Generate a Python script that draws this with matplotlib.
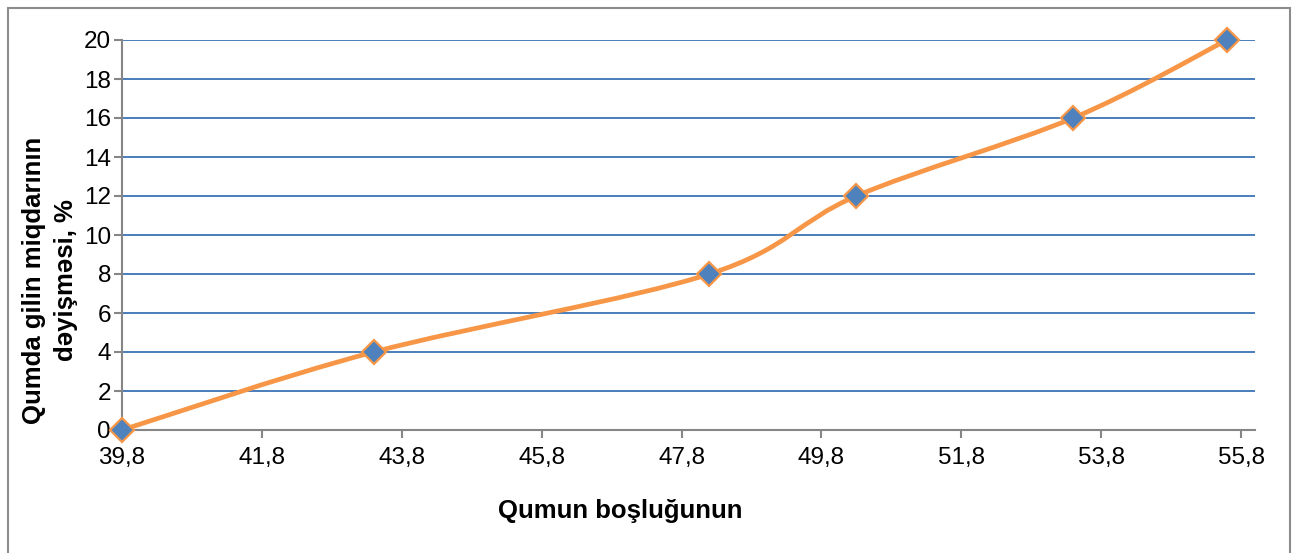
import numpy as np
import matplotlib
matplotlib.use('Agg')
import matplotlib.pyplot as plt
from matplotlib.path import Path
from matplotlib.patches import PathPatch, Rectangle

# data
porosity = [39.8, 43.4, 48.2, 50.3, 53.4, 55.6]
clay_change = [0, 4, 8, 12, 16, 20]
x_ticks = [39.8, 41.8, 43.8, 45.8, 47.8, 49.8, 51.8, 53.8, 55.8]
y_ticks = [0, 2, 4, 6, 8, 10, 12, 14, 16, 18, 20]
x_title = 'Qumun boşluğunun'
y_title = 'Qumda gilin miqdarının\ndəyişməsi, %'

plt.rcParams['font.family'] = ['Liberation Sans', 'DejaVu Sans']

line_col = '#F79646'
mark_col = '#4F81BD'
grid_col = '#4A7EBB'
axis_col = '#868686'

def smooth_path(xs, ys):
    # Excel-like smoothed line: catmull-rom segments as cubic beziers
    pts = np.column_stack([xs, ys]).astype(float)
    n = len(pts)
    verts = [pts[0]]
    codes = [Path.MOVETO]
    for i in range(n - 1):
        p0 = pts[i - 1] if i > 0 else pts[i]
        p1 = pts[i]
        p2 = pts[i + 1]
        p3 = pts[i + 2] if i + 2 < n else pts[i + 1]
        c1 = p1 + (p2 - p0) / 6.0
        c2 = p2 - (p3 - p1) / 6.0
        verts += [c1, c2, p2]
        codes += [Path.CURVE4] * 3
    return Path(verts, codes)

fig = plt.figure(figsize=(12.96, 5.53), dpi=100)
ax = fig.add_axes([122/1296, 1 - 430/553, (1255 - 122)/1296, 390/553])

ax.set_xlim(39.8, 56.0)
ax.set_ylim(0, 20)
ax.set_xticks(x_ticks)
ax.set_xticklabels([f'{v:.1f}'.replace('.', ',') for v in x_ticks])
ax.set_yticks(y_ticks)
ax.yaxis.grid(True, color=grid_col, linewidth=1.4)
ax.set_axisbelow(True)

for s in ['top', 'right']:
    ax.spines[s].set_visible(False)
for s in ['left', 'bottom']:
    ax.spines[s].set_color(axis_col)
    ax.spines[s].set_linewidth(1.5)
ax.tick_params(axis='both', colors=axis_col, width=1.5, length=6, labelcolor='black',
               labelsize=17.5)
ax.tick_params(axis='x', pad=6)
ax.tick_params(axis='y', pad=2)

ax.add_patch(PathPatch(smooth_path(porosity, clay_change), facecolor='none',
                       edgecolor=line_col, linewidth=3.4, capstyle='round',
                       joinstyle='round', zorder=3, clip_on=False))
ax.plot(porosity, clay_change, linestyle='none', marker='D', markersize=12,
        markerfacecolor=mark_col, markeredgecolor=line_col, markeredgewidth=1.6,
        zorder=4, clip_on=False)

ax.set_xlabel(x_title, fontsize=18.5, fontweight='bold')
ax.xaxis.set_label_coords((620 - 122) / (1255 - 122), -(511 - 430) / 390)
ax.xaxis.label.set_va('center')
ax.set_ylabel(y_title, fontsize=18.5, fontweight='bold', linespacing=1.4)
ax.yaxis.set_label_coords(-(122 - 50) / (1255 - 122), (430 - 280) / 390)
ax.yaxis.label.set_va('center')

# outer chart border
fig.patches.append(Rectangle((8/1296, -0.02), (1290 - 8)/1296, 1.02 - 8/553,
                             transform=fig.transFigure, fill=False,
                             edgecolor='#8C8C8C', linewidth=1.5))

fig.savefig('out.png', dpi=100)
